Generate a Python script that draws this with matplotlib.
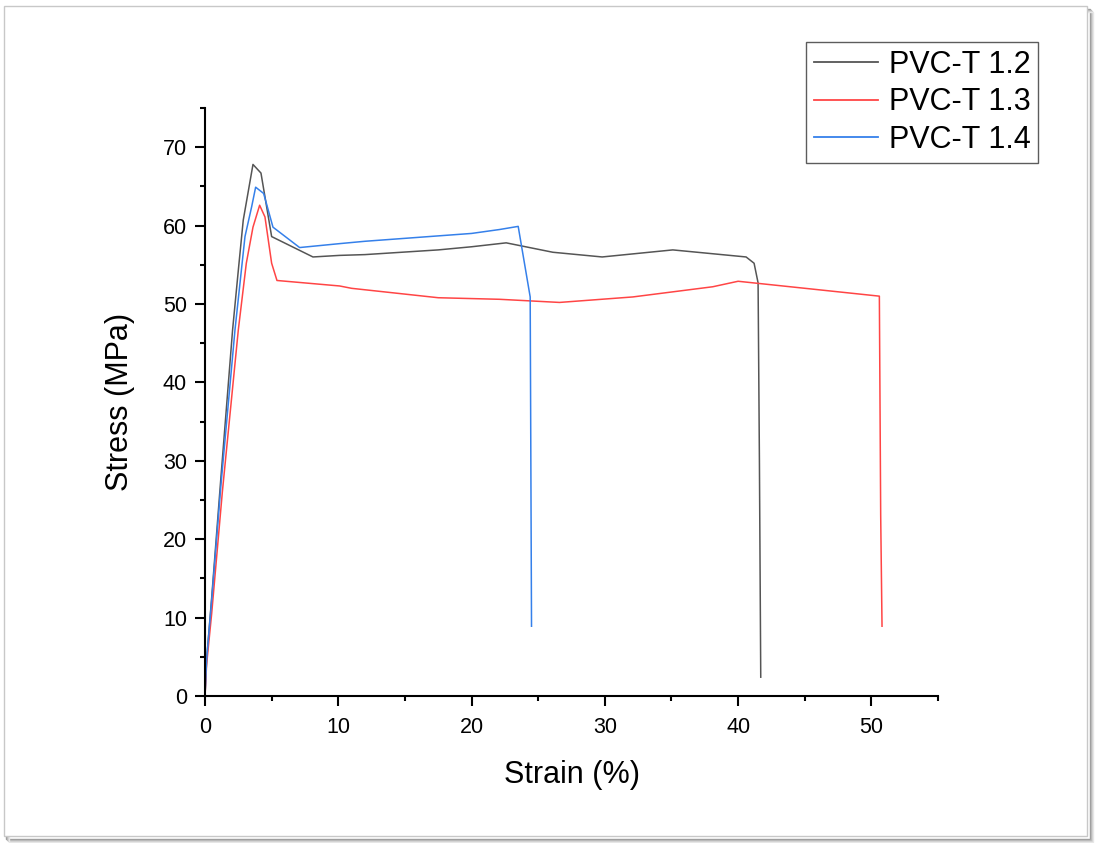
import matplotlib
matplotlib.use("Agg")
import matplotlib.pyplot as plt
from matplotlib.patches import Rectangle
from matplotlib.ticker import MultipleLocator

plt.rcParams['font.family'] = ['Liberation Sans', 'DejaVu Sans']

# PVC-T 1.2
strain_12 = [0, 0.12, 0.5, 1.2, 2.07, 2.5, 2.87, 3.6, 4.2, 5.0, 8.1, 10.1, 12.0, 17.5,
             20.0, 22.6, 26.1, 29.8, 35.1, 40.6, 41.2, 41.5, 41.6, 41.7]
stress_12 = [0, 4.6, 12.5, 28.0, 46.7, 54.3, 60.7, 67.8, 66.7, 58.6, 56.0, 56.2, 56.3, 56.9,
             57.3, 57.8, 56.6, 56.0, 56.9, 56.0, 55.2, 52.7, 30.0, 2.4]

# PVC-T 1.3
strain_13 = [0, 0.12, 0.5, 1.3, 2.5, 3.1, 3.6, 4.1, 4.5, 5.0, 5.4, 10.1, 11.0, 17.5,
             22.1, 26.6, 32.1, 38.1, 40.0, 50.6, 50.7, 50.8]
stress_13 = [0, 4.0, 10.5, 26.0, 46.7, 55.2, 59.8, 62.6, 61.1, 55.2, 53.0, 52.3, 52.0, 50.8,
             50.6, 50.2, 50.9, 52.2, 52.9, 51.0, 23.0, 8.9]

# PVC-T 1.4
strain_14 = [0, 0.12, 0.5, 1.2, 2.25, 3.0, 3.5, 3.8, 4.4, 5.1, 7.1, 10.1, 12.0, 16.0,
             20.0, 22.1, 23.5, 24.4, 24.5]
stress_14 = [0, 4.6, 12.2, 27.0, 46.7, 58.6, 62.4, 64.9, 64.1, 59.8, 57.2, 57.7, 58.0, 58.5,
             59.0, 59.5, 59.9, 50.9, 8.9]

series = [
    (strain_12, stress_12, "PVC-T 1.2", "#555555"),
    (strain_13, stress_13, "PVC-T 1.3", "#ff4545"),
    (strain_14, stress_14, "PVC-T 1.4", "#3580ea"),
]

fig = plt.figure(figsize=(10.96, 8.43), dpi=100)

# screenshot-style frame with soft shadow
W, H = 1096, 843
for i, c in enumerate(["#9a9a9a", "#b5b5b5", "#cfcfcf", "#e6e6e6"]):
    fig.patches.append(Rectangle(((6 + i) / W, (4 - i) / H), 1084 / W, 830 / H,
                                 transform=fig.transFigure, fill=False,
                                 edgecolor=c, lw=1.0, zorder=0))
fig.patches.append(Rectangle((4 / W, 7 / H), 1083 / W, 830 / H,
                             transform=fig.transFigure, facecolor="white",
                             edgecolor="#c8c8c8", lw=1.0, zorder=1))

ax = fig.add_axes([205 / W, 1 - 696 / H, 733 / W, 588 / H])
ax.set_zorder(2)
ax.patch.set_alpha(0)

for x, y, name, col in series:
    ax.plot(x, y, color=col, lw=1.1, label=name)

ax.set_xlim(0, 55)
ax.set_ylim(0, 75)
ax.xaxis.set_major_locator(MultipleLocator(10))
ax.xaxis.set_minor_locator(MultipleLocator(5))
ax.yaxis.set_major_locator(MultipleLocator(10))
ax.yaxis.set_minor_locator(MultipleLocator(5))

for s in ["top", "right"]:
    ax.spines[s].set_visible(False)
for s in ["left", "bottom"]:
    ax.spines[s].set_linewidth(1.5)

ax.tick_params(which="major", direction="out", length=7, width=1.5, labelsize=15.5, pad=6)
ax.tick_params(axis="x", which="major", pad=8)
ax.tick_params(which="minor", direction="out", length=3.6, width=1.5)

ax.set_xlabel("Strain (%)", fontsize=22, labelpad=16)
ax.set_ylabel("Stress (MPa)", fontsize=22, labelpad=20)

leg = fig.legend(loc="upper right", bbox_to_anchor=(1038 / W, 1 - 42 / H),
                 fontsize=22, frameon=True, fancybox=False, handlelength=2.1,
                 handletextpad=0.35, borderpad=0.25, labelspacing=0.25,
                 borderaxespad=0)
leg.get_frame().set_edgecolor("#333333")
leg.get_frame().set_linewidth(1.0)
leg.set_zorder(3)
for ln in leg.get_lines():
    ln.set_linewidth(1.3)

fig.savefig("out.png", dpi=100)
